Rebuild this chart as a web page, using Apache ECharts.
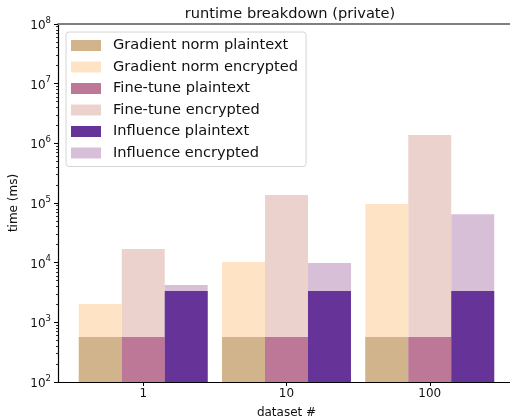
<!DOCTYPE html>
<html>
<head>
<meta charset="utf-8">
<script src="https://cdn.jsdelivr.net/npm/echarts@6/dist/echarts.min.js"></script>
<style>html,body{margin:0;padding:0;background:#fff}#c{width:510px;height:419px}</style>
</head>
<body>
<div id="c"></div>
<script>
const categories = ['1', '10', '100'];
const gradPlain = [570, 570, 570];
const gradEnc = [2030, 10300, 96000];
const finePlain = [570, 570, 570];
const fineEnc = [16900, 136000, 1380000];
const inflPlain = [3350, 3350, 3350];
const inflEnc = [4220, 9900, 65000];

const colors = {
  gradPlain: '#d2b48c', gradEnc: '#fee4c4',
  finePlain: '#bd7797', fineEnc: '#ecd2cc',
  inflPlain: '#663399', inflEnc: '#d8bfd8'
};
const groupOffset = [-0.3, 0, 0.3];

function pts(vals, g) {
  return vals.map((v, i) => [i + groupOffset[g], v]);
}
const minorLog = [];
for (let k = 2; k < 8; k++) for (let m = 2; m <= 9; m++) minorLog.push(k + Math.log10(m));

const font = 'DejaVu Sans';
const txt = '#111';
function bar(name, vals, g, color, z) {
  return {
    name, type: 'bar', data: pts(vals, g), barWidth: '100%', barGap: '-100%',
    itemStyle: { color }, z, xAxisIndex: 0, yAxisIndex: 0, animation: false
  };
}
const chart = echarts.init(document.getElementById('c'), null, { renderer: 'canvas' });
chart.setOption({
  animation: false,
  textStyle: { fontFamily: font },
  title: {
    text: 'runtime breakdown (private)', left: 285, textAlign: 'center', top: 2,
    textStyle: { fontFamily: font, fontSize: 14.6, fontWeight: 'normal', color: txt }
  },
  grid: { left: 58, top: 24, bottom: 37, right: -5, containLabel: false, outerBoundsMode: 'none' },
  legend: {
    orient: 'vertical', left: 66, top: 32, padding: [6, 8, 6, 5],
    itemWidth: 30, itemHeight: 11, itemGap: 6.5, icon: 'rect',
    borderColor: '#d4d4d4', borderWidth: 1, borderRadius: 3, backgroundColor: 'rgba(255,255,255,0.85)',
    textStyle: { fontFamily: font, fontSize: 14.6, color: txt, lineHeight: 15, padding: [0, 0, 0, 7] },
    data: ['Gradient norm plaintext', 'Gradient norm encrypted', 'Fine-tune plaintext', 'Fine-tune encrypted', 'Influence plaintext', 'Influence encrypted']
  },
  xAxis: [{
    type: 'value', min: -0.595, max: 2.595, position: 'bottom',
    name: 'dataset #', nameLocation: 'middle', nameGap: 25,
    nameTextStyle: { fontFamily: font, fontSize: 12, color: txt },
    axisLine: { show: true, onZero: false, lineStyle: { color: '#000', width: 1.2 } },
    axisTick: { show: true, length: 4, customValues: [0, 1, 2], lineStyle: { color: '#000' } },
    axisLabel: { customValues: [0, 1, 2], formatter: v => categories[Math.round(v)], fontFamily: font, fontSize: 12, color: txt, margin: 6 },
    splitLine: { show: false }
  }, {
    type: 'value', min: -0.595, max: 2.595, position: 'top',
    axisLine: { show: true, onZero: false, lineStyle: { color: '#808080', width: 2 } },
    axisTick: { show: false }, axisLabel: { show: false }, splitLine: { show: false }
  }],
  yAxis: [{
    type: 'log', logBase: 10, min: 100, max: 1e8, position: 'left',
    name: 'time (ms)', nameLocation: 'middle', nameGap: 35, nameRotate: 90,
    nameTextStyle: { fontFamily: font, fontSize: 12, color: txt },
    axisLine: { show: true, onZero: false, lineStyle: { color: '#000', width: 1.2 } },
    axisTick: { show: true, length: 4, lineStyle: { color: '#000' } },
    splitLine: { show: false },
    axisLabel: {
      fontFamily: font, color: txt, margin: 7,
      formatter: v => '{b|10}{s|' + Math.round(Math.log10(v)) + '}',
      rich: {
        b: { fontFamily: font, fontSize: 12, color: txt, verticalAlign: 'bottom', lineHeight: 16 },
        s: { fontFamily: font, fontSize: 8.5, color: txt, verticalAlign: 'top', lineHeight: 10 }
      }
    }
  }, {
    type: 'value', min: 2, max: 8, position: 'left',
    axisLine: { show: false, onZero: false },
    axisTick: { show: true, length: 2, customValues: minorLog, lineStyle: { color: '#000', width: 0.8 } },
    axisLabel: { show: false }, splitLine: { show: false }
  }],
  series: [
    bar('Gradient norm plaintext', gradPlain, 0, colors.gradPlain, 3),
    bar('Gradient norm encrypted', gradEnc, 0, colors.gradEnc, 2),
    bar('Fine-tune plaintext', finePlain, 1, colors.finePlain, 3),
    bar('Fine-tune encrypted', fineEnc, 1, colors.fineEnc, 2),
    bar('Influence plaintext', inflPlain, 2, colors.inflPlain, 3),
    bar('Influence encrypted', inflEnc, 2, colors.inflEnc, 2)
  ]
});
</script>
</body>
</html>
